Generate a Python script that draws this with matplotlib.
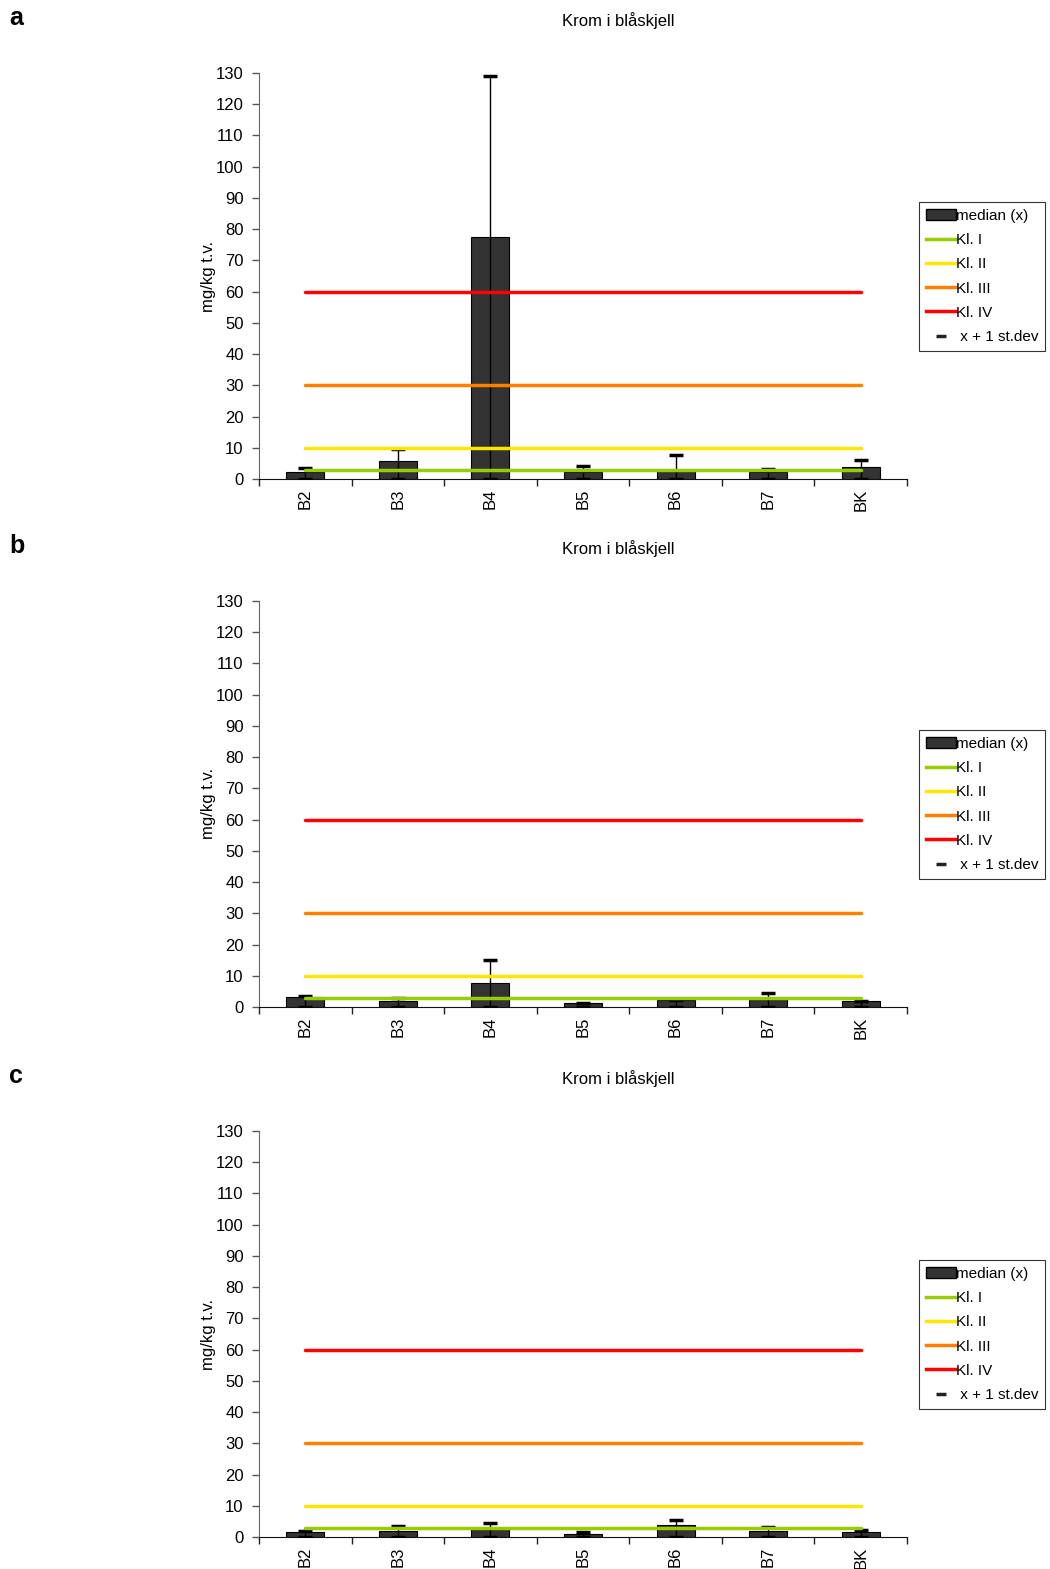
import matplotlib
matplotlib.use("Agg")
import matplotlib.pyplot as plt
from matplotlib.lines import Line2D
from matplotlib.patches import Patch

plt.rcParams["font.family"] = ["Liberation Sans", "DejaVu Sans"]

stations = ["B2", "B3", "B4", "B5", "B6", "B7", "BK"]

# median (x) og x + 1 st.dev per panel
median_a = [2.1, 5.9, 77.5, 2.3, 2.5, 2.1, 3.7]
upper_a = [3.5, 9.6, 129.0, 4.1, 7.8, 3.3, 6.1]
median_b = [3.3, 1.8, 7.6, 1.3, 2.1, 2.6, 1.8]
upper_b = [3.4, 2.9, 14.9, 1.4, 2.4, 4.5, 1.9]
median_c = [1.7, 1.8, 2.6, 0.95, 3.8, 2.0, 1.6]
upper_c = [1.8, 3.4, 4.6, 1.7, 5.6, 3.1, 2.1]

# klassegrenser
class_names = ["Kl. I", "Kl. II", "Kl. III", "Kl. IV"]
class_limits = [3, 10, 30, 60]
class_colors = ["#99CC00", "#FFE600", "#FF8000", "#FF0000"]

panels = [
    ("a", median_a, upper_a, 479),
    ("b", median_b, upper_b, 1007),
    ("c", median_c, upper_c, 1537),
]

W, H = 1050, 1569
fig = plt.figure(figsize=(W / 100, H / 100), dpi=100)

for letter, med, up, y0 in panels:
    ax = fig.add_axes([259 / W, 1 - y0 / H, 648 / W, 406 / H])
    x = list(range(len(stations)))
    ax.bar(x, med, width=0.41, color="#333333", edgecolor="#000000", linewidth=0.8, zorder=2)
    ax.errorbar(x, [0] * len(x), yerr=[[0] * len(x), up], fmt="none",
                ecolor="#000000", elinewidth=1.0, capsize=5, capthick=2.5, zorder=3)
    for lim, col in zip(class_limits, class_colors):
        ax.plot([0, len(stations) - 1], [lim, lim], color=col, linewidth=2.5, zorder=4,
                solid_capstyle="round")

    ax.set_xlim(-0.5, len(stations) - 0.5)
    ax.set_ylim(0, 130)
    ax.set_yticks(range(0, 131, 10))
    ax.set_xticks(x)
    ax.set_xticklabels(stations, rotation=90)
    ax.set_xticks([i - 0.5 for i in range(len(stations) + 1)], minor=True)
    ax.tick_params(axis="x", which="major", length=0, pad=7, labelsize=12)
    ax.tick_params(axis="x", which="minor", length=5, width=1, color="#222222")
    ax.tick_params(axis="y", length=5, width=1, color="#555555", labelsize=12, pad=6)
    for s in ["top", "right"]:
        ax.spines[s].set_visible(False)
    ax.spines["left"].set_color("#666666")
    ax.spines["bottom"].set_color("#111111")
    ax.set_ylabel("mg/kg t.v.", fontsize=12, labelpad=0)

    fig.text(618 / W, 1 - (y0 - 458) / H, "Krom i blåskjell", ha="center", va="center", fontsize=12)
    fig.text(9 / W, 1 - (y0 - 461) / H, letter, ha="left", va="center", fontsize=18, fontweight="bold")

    handles = [Patch(facecolor="#333333", edgecolor="#000000", label="median (x)")]
    for name, col in zip(class_names, class_colors):
        handles.append(Line2D([], [], color=col, linewidth=2.5, label=name))
    handles.append(Line2D([], [], color="#222222", marker="_", markersize=7, markeredgewidth=2.5,
                          linestyle="none", label=" x + 1 st.dev"))
    leg = fig.legend(handles=handles, loc="upper left",
                     bbox_to_anchor=(919 / W, 1 - (y0 - 277) / H),
                     fontsize=11, frameon=True, fancybox=False, edgecolor="#000000",
                     handlelength=1.95, handletextpad=0.0, labelspacing=0.67,
                     borderpad=0.45, borderaxespad=0)
    leg.get_frame().set_linewidth(0.8)

fig.savefig("out.png", dpi=100)
